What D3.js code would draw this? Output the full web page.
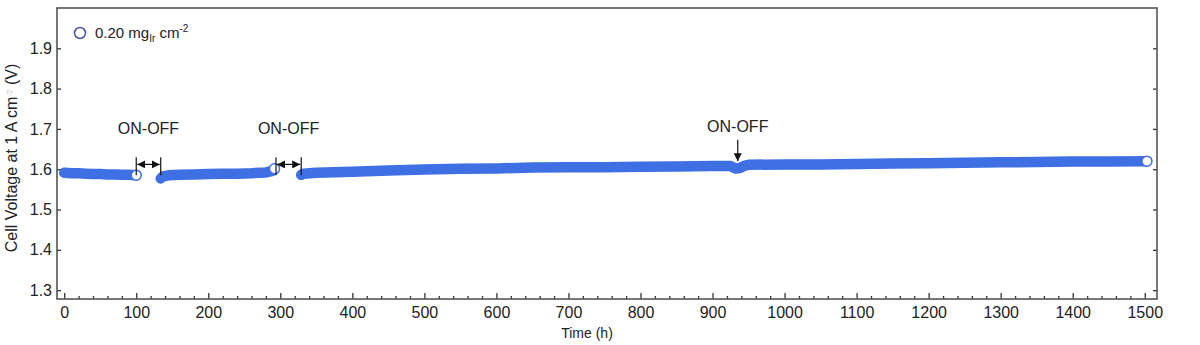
<!DOCTYPE html>
<html>
<head>
<meta charset="utf-8">
<script src="https://cdn.jsdelivr.net/npm/d3@7"></script>
<style>
  html, body { margin: 0; padding: 0; background: #fff; }
  svg { display: block; font-family: "Liberation Sans", Arial, sans-serif; }
</style>
</head>
<body>
<svg id="chart" width="1200" height="345"></svg>
<script>
// Durability run: cell voltage at 1 A cm-2 over time, split by two ON-OFF shutdowns
const seg1Time = [0, 10, 20, 30, 40, 50, 60, 70, 80, 90, 100];
const seg1Volt = [1.591, 1.590, 1.590, 1.589, 1.588, 1.588, 1.587, 1.587, 1.586, 1.586, 1.585];

const seg2Time = [134, 137, 145, 160, 180, 200, 220, 240, 260, 280, 288, 292];
const seg2Volt = [1.577, 1.582, 1.585, 1.586, 1.587, 1.588, 1.589, 1.589, 1.590, 1.592, 1.595, 1.601];

const seg3Time = [329, 332, 350, 400, 450, 500, 550, 600, 650, 700, 750, 800, 850, 900, 925,
                  932, 938, 945, 950, 1000, 1050, 1100, 1150, 1200, 1250, 1300, 1350, 1400, 1450, 1503];
const seg3Volt = [1.586, 1.589, 1.591, 1.594, 1.597, 1.599, 1.601, 1.602, 1.604, 1.605, 1.605, 1.606, 1.607, 1.608, 1.608,
                  1.602, 1.603, 1.609, 1.611, 1.612, 1.612, 1.613, 1.614, 1.615, 1.616, 1.617, 1.618, 1.619, 1.619, 1.620];

const xMajorTicks = [0, 100, 200, 300, 400, 500, 600, 700, 800, 900, 1000, 1100, 1200, 1300, 1400, 1500];
const yMajorTicks = [1.3, 1.4, 1.5, 1.6, 1.7, 1.8, 1.9];

// ON-OFF events: [start, end] gaps and a single marked point
const gapEvents = [[100, 134], [294, 329]];
const pointEvent = 935;

const svg = d3.select("#chart");
const W = 1200, H = 345;
const margin = { top: 8, right: 43, bottom: 46, left: 57 };
const iw = W - margin.left - margin.right;
const ih = H - margin.top - margin.bottom;

const x = d3.scaleLinear().domain([-10, 1517]).range([0, iw]);
const y = d3.scaleLinear().domain([1.278, 2.0]).range([ih, 0]);

const g = svg.append("g").attr("transform", `translate(${margin.left},${margin.top})`);

const ink = "#333";
const blue = "#3f70e3";

// ticks on bottom axis (inward)
const xMinor = d3.range(0, 1501, 20).filter(v => v % 100 !== 0);
const xAxis = d3.axisBottom(x).tickValues(xMajorTicks).tickSize(-6).tickPadding(8).tickFormat(d3.format("d"));
const xAxisMinor = d3.axisBottom(x).tickValues(xMinor).tickSize(-3).tickFormat("");
const yAxis = d3.axisLeft(y).tickValues(yMajorTicks).tickSize(-4).tickPadding(5).tickFormat(d3.format(".1f"));
const yAxisRight = d3.axisRight(y).tickValues(yMajorTicks).tickSize(-4).tickFormat("");

function styleAxis(sel) {
  sel.select(".domain").remove();
  sel.selectAll(".tick line").attr("stroke", ink).attr("stroke-width", 1.3);
  sel.selectAll(".tick text").attr("fill", "#222").style("font-size", "16px")
     .style("font-family", "'Liberation Sans', Arial, sans-serif");
}

g.append("g").attr("transform", `translate(0,${ih})`).call(xAxis).call(styleAxis);
g.append("g").attr("transform", `translate(0,${ih})`).call(xAxisMinor).call(styleAxis);
g.append("g").call(yAxis).call(styleAxis);
g.append("g").attr("transform", `translate(${iw},0)`).call(yAxisRight).call(styleAxis);

// frame
g.append("rect").attr("x", 0).attr("y", 0).attr("width", iw).attr("height", ih)
  .attr("fill", "none").attr("stroke", "#555").attr("stroke-width", 1.6);

// data bands (dense markers rendered as a thick line)
const line = d3.line().x(d => x(d[0])).y(d => y(d[1]));
const segments = [
  d3.zip(seg1Time, seg1Volt),
  d3.zip(seg2Time, seg2Volt),
  d3.zip(seg3Time, seg3Volt)
];
segments.forEach(seg => {
  g.append("path").datum(seg).attr("d", line)
    .attr("fill", "none").attr("stroke", blue).attr("stroke-width", 10.5)
    .attr("stroke-linecap", "round").attr("stroke-linejoin", "round");
});

// open markers at each segment end
segments.forEach(seg => {
  const last = seg[seg.length - 1];
  g.append("circle").attr("cx", x(last[0])).attr("cy", y(last[1])).attr("r", 5)
    .attr("fill", "#fff").attr("stroke", blue).attr("stroke-width", 1.5);
});

// legend
g.append("circle").attr("cx", 23).attr("cy", 25).attr("r", 5.5)
  .attr("fill", "#fff").attr("stroke", "#4650a8").attr("stroke-width", 1.5);
const lt = g.append("text").attr("x", 38).attr("y", 30).attr("fill", "#222").style("font-size", "15px");
lt.append("tspan").text("0.20 mg");
lt.append("tspan").attr("dy", 4).style("font-size", "10px").text("Ir");
lt.append("tspan").attr("dy", -4).text(" cm");
lt.append("tspan").attr("dy", -6).style("font-size", "10px").text("-2");

// arrowheads
const defs = svg.append("defs");
["arrowEnd", "arrowStart"].forEach((id, i) => {
  defs.append("marker").attr("id", id).attr("viewBox", "0 0 10 10")
    .attr("refX", i === 0 ? 10 : 0).attr("refY", 5)
    .attr("markerWidth", 8).attr("markerHeight", 8).attr("markerUnits", "userSpaceOnUse")
    .attr("orient", "auto")
    .append("path").attr("d", i === 0 ? "M0,0 L10,5 L0,10 Z" : "M10,0 L0,5 L10,10 Z").attr("fill", "#111");
});

// ON-OFF gap annotations
gapEvents.forEach(([a, b]) => {
  const xa = x(a), xb = x(b);
  const yTop = y(1.63), yBot = y(1.585);
  [xa, xb].forEach(xx => g.append("line").attr("x1", xx).attr("x2", xx).attr("y1", yTop).attr("y2", yBot)
    .attr("stroke", "#111").attr("stroke-width", 1.2));
  g.append("line").attr("x1", xa + 1).attr("x2", xb - 1).attr("y1", y(1.612)).attr("y2", y(1.612))
    .attr("stroke", "#111").attr("stroke-width", 1.2)
    .attr("marker-start", "url(#arrowStart)").attr("marker-end", "url(#arrowEnd)");
  g.append("text").attr("x", (xa + xb) / 2).attr("y", y(1.688)).attr("text-anchor", "middle")
    .attr("fill", "#222").style("font-size", "16px").text("ON-OFF");
});

// single ON-OFF marker
g.append("line").attr("x1", x(pointEvent)).attr("x2", x(pointEvent))
  .attr("y1", y(1.673)).attr("y2", y(1.620))
  .attr("stroke", "#111").attr("stroke-width", 1.2).attr("marker-end", "url(#arrowEnd)");
g.append("text").attr("x", x(pointEvent)).attr("y", y(1.692)).attr("text-anchor", "middle")
  .attr("fill", "#222").style("font-size", "16px").text("ON-OFF");

// axis titles
svg.append("text").attr("x", 587).attr("y", 338).attr("text-anchor", "middle")
  .attr("fill", "#222").style("font-size", "14px").text("Time (h)");
const yt = svg.append("text").attr("transform", "translate(17,158) rotate(-90)")
  .attr("text-anchor", "middle").attr("fill", "#222").style("font-size", "16px");
yt.append("tspan").text("Cell Voltage at 1 A cm");
yt.append("tspan").attr("dy", -5).style("font-size", "8px").attr("fill", "#bbb").text("-2");
yt.append("tspan").attr("dy", 5).text("   (V)");
</script>
</body>
</html>
